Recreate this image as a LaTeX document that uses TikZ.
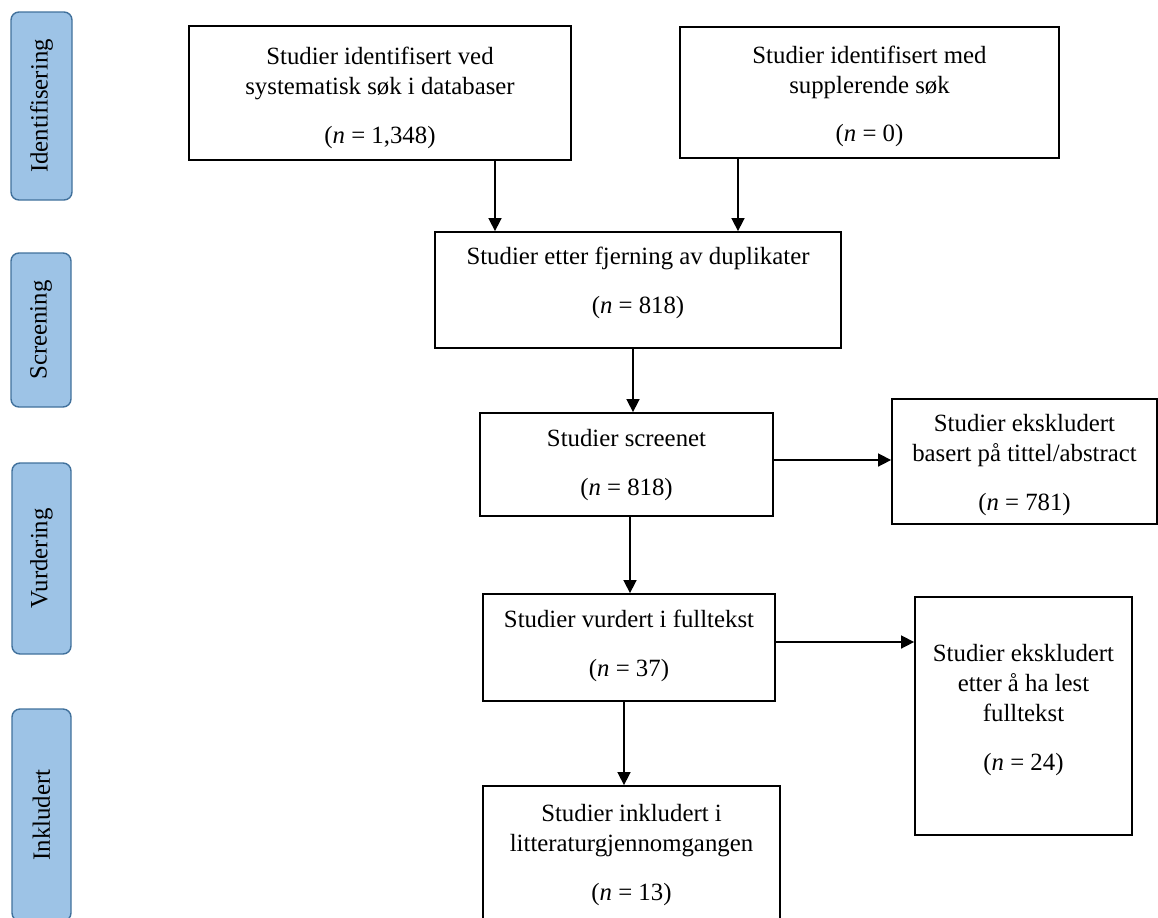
\documentclass[tikz,border=0pt]{standalone}
\usepackage{fontspec}
\setmainfont{Liberation Serif}
\usetikzlibrary{arrows.meta}
\definecolor{phasefill}{HTML}{9DC3E6}
\definecolor{phaseline}{HTML}{41719C}
\begin{document}
\begin{tikzpicture}[x=0.5pt,y=-0.5pt,
    font=\fontsize{12.4pt}{15pt}\selectfont,
    box/.style={draw,line width=0.9pt,inner sep=0pt},
    boxtext/.style={anchor=north,align=center,inner sep=0pt},
    phase/.style={draw=phaseline,fill=phasefill,line width=0.7pt,
      rounded corners=4pt,rotate=90,inner sep=0pt},
    flow/.style={-{Triangle[length=6.5pt,width=6.5pt]},line width=0.8pt}]
  \useasboundingbox (0,0) rectangle (1158,917);
  \clip (0,0) rectangle (1158,917);
  % phases
  \node[phase,minimum width=94pt,minimum height=30.5pt] (identphase) at (41.5,106) {Identifisering};
  \node[phase,minimum width=77pt,minimum height=30pt] (screenphase) at (41,330) {Screening};
  \node[phase,minimum width=95.5pt,minimum height=29.5pt] (assessphase) at (41.5,558.5) {Vurdering};
  \node[phase,minimum width=106pt,minimum height=29.5pt] (inclphase) at (41.5,815) {Inkludert};
  % boxes
  \node[box,minimum width=191pt,minimum height=67pt] (dbsearch) at (380,93) {};
  \node[box,minimum width=189.5pt,minimum height=65.5pt] (extrasearch) at (869.5,92.5) {};
  \node[box,minimum width=203pt,minimum height=58pt] (dedup) at (638,290) {};
  \node[box,minimum width=146.5pt,minimum height=51.5pt] (screened) at (626.5,464.5) {};
  \node[box,minimum width=132.5pt,minimum height=62.5pt] (exclabs) at (1024.5,461.5) {};
  \node[box,minimum width=146pt,minimum height=53.5pt] (fulltext) at (629,647.5) {};
  \node[box,minimum width=108.5pt,minimum height=119pt] (exclfull) at (1023.5,716) {};
  \node[box,minimum width=148.5pt,minimum height=69.5pt] (included) at (631.5,855.5) {};
  % texts
  \node[boxtext] (dbsearchtext) at (380,46.5)
    {Studier identifisert ved\\systematisk søk i databaser\\[9.5pt](\textit{n} = 1,348)};
  \node[boxtext] (extrasearchtext) at (869.5,45.5)
    {Studier identifisert med\\supplerende søk\\[9pt](\textit{n} = 0)};
  \node[boxtext] (deduptext) at (638,246.5)
    {Studier etter fjerning av duplikater\\[9.5pt](\textit{n} = 818)};
  \node[boxtext] (screenedtext) at (626.5,428.5)
    {Studier screenet\\[9.5pt](\textit{n} = 818)};
  \node[boxtext] (exclabstext) at (1024.5,413.5)
    {Studier ekskludert\\basert på tittel/abstract\\[9.5pt](\textit{n} = 781)};
  \node[boxtext] (fulltexttext) at (629,609.5)
    {Studier vurdert i fulltekst\\[9.5pt](\textit{n} = 37)};
  \node[boxtext] (exclfulltext) at (1023.5,643.5)
    {Studier ekskludert\\etter å ha lest\\fulltekst\\[9.5pt](\textit{n} = 24)};
  \node[boxtext] (includedtext) at (631.5,803.5)
    {Studier inkludert i\\litteraturgjennomgangen\\[9.5pt](\textit{n} = 13)};
  \begin{scope}[flow]
    \draw ([xshift=57.5pt]dbsearch.south) -- ([xshift=57.5pt]dbsearch.south |- dedup.north);
    \draw ([xshift=-65.75pt]extrasearch.south) -- ([xshift=-65.75pt]extrasearch.south |- dedup.north);
    \draw ([xshift=-2.5pt]dedup.south) -- ([xshift=-2.5pt]dedup.south |- screened.north);
    \draw ([yshift=2.25pt]screened.east) -- ([yshift=2.25pt]screened.east -| exclabs.west);
    \draw ([xshift=1.75pt]screened.south) -- ([xshift=1.75pt]screened.south |- fulltext.north);
    \draw ([yshift=2.75pt]fulltext.east) -- ([yshift=2.75pt]fulltext.east -| exclfull.west);
    \draw ([xshift=-2.5pt]fulltext.south) -- ([xshift=-2.5pt]fulltext.south |- included.north);
  \end{scope}
\end{tikzpicture}
\end{document}
